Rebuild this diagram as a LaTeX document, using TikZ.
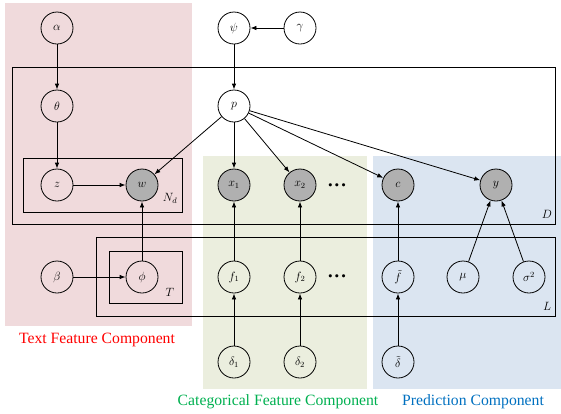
\documentclass[tikz,border=0pt]{standalone}
\usepackage{xcolor}
\usepackage{amsmath}
\usepackage{fontspec}
\newfontfamily\capfont{Liberation Serif}
\usepackage{tikz}
\usetikzlibrary{arrows.meta}
\definecolor{textbg}{RGB}{240,218,220}
\definecolor{catbg}{RGB}{235,238,222}
\definecolor{predbg}{RGB}{219,229,241}
\definecolor{textcol}{RGB}{255,0,0}
\definecolor{catcol}{RGB}{0,176,80}
\definecolor{predcol}{RGB}{0,112,192}

\begin{document}
\begin{tikzpicture}[x=1pt,y=-1pt]
\tikzstyle{latent} = [draw, shape=circle, minimum size=32pt, inner sep=0pt, font=\large, line width=.8pt]
\tikzstyle{observed} = [latent, fill=black!31]
\tikzstyle{plate} = [draw, line width=.8pt]
\tikzstyle{platelabel} = [font=\large, inner sep=0pt]
\tikzstyle{etc} = [font=\huge\boldmath, inner sep=0pt, anchor=base]
\tikzstyle{conn} = [-{Latex[length=6pt,width=4.5pt]}, line width=.8pt]
\tikzstyle{caption} = [font=\capfont\fontsize{15.7}{18}\selectfont, inner sep=0pt]
  \useasboundingbox (0,0) rectangle (561,413);
  % component backgrounds
  \fill [textbg] (5,3) rectangle (192,326);
  \fill [catbg] (203,156) rectangle (367,389);
  \fill [predbg] (373,156) rectangle (561,389);

  % plates
  \draw [plate] (12,67) rectangle (555,224);
  \draw [plate] (23,158) rectangle (182,212);
  \draw [plate] (96,237) rectangle (555,316);
  \draw [plate] (109,251) rectangle (182,303);
  \node (labD) [platelabel] at (547,214) {$D$};
  \node (labNd) [platelabel] at (170,198) {$N_d$};
  \node (labL) [platelabel] at (547,306) {$L$};
  \node (labT) [platelabel] at (170,292) {$T$};

  \draw
  node (alpha) [latent] at (57,28) {$\alpha$}
  node (theta) [latent] at (57,106) {$\theta$}
  node (z) [latent] at (57,185) {$z$}
  node (w) [observed] at (142,185) {$w$}
  node (beta) [latent] at (57,277) {$\beta$}
  node (phi) [latent] at (142,277) {$\phi$}

  node (psi) [latent] at (234,28) {$\psi$}
  node (gamma) [latent] at (300,28) {$\gamma$}
  node (p) [latent] at (234,106) {$p$}

  node (x1) [observed] at (234,185) {$x_1$}
  node (x2) [observed] at (300,185) {$x_2$}
  node (xdots) [etc] at (337,190) {${\cdot}{\cdot}{\cdot}$}
  node (c) [observed] at (398,185) {$c$}
  node (y) [observed] at (496,185) {$y$}

  node (f1) [latent] at (234,277) {$f_1$}
  node (f2) [latent] at (300,277) {$f_2$}
  node (fdots) [etc] at (337,281) {${\cdot}{\cdot}{\cdot}$}
  node (ft) [latent] at (398,277) {$\tilde{f}$}
  node (mu) [latent] at (463,277) {$\mu$}
  node (sigma) [latent] at (529,277) {$\sigma^2$}

  node (d1) [latent] at (234,362) {$\delta_1$}
  node (d2) [latent] at (300,362) {$\delta_2$}
  node (dt) [latent] at (398,362) {$\tilde{\delta}$};

  % text feature part
  \draw [conn] (alpha) edge (theta) (theta) edge (z) (z) edge (w)
    (phi) edge (w) (beta) edge (phi) (p) edge (w);
  % categorical and prediction parts
  \draw [conn] (gamma) edge (psi) (psi) edge (p)
    (p) edge (x1) (p) edge (x2) (p) edge (c) (p) edge (y)
    (f1) edge (x1) (f2) edge (x2) (ft) edge (c)
    (mu) edge (y) (sigma) edge (y)
    (d1) edge (f1) (d2) edge (f2) (dt) edge (ft);

  \node (captext) [caption, text=textcol] at (97,340) {Text Feature Component};
  \node (capcat) [caption, text=catcol] at (278,402) {Categorical Feature Component};
  \node (cappred) [caption, text=predcol] at (473,402) {Prediction Component};
\end{tikzpicture}
\end{document}
